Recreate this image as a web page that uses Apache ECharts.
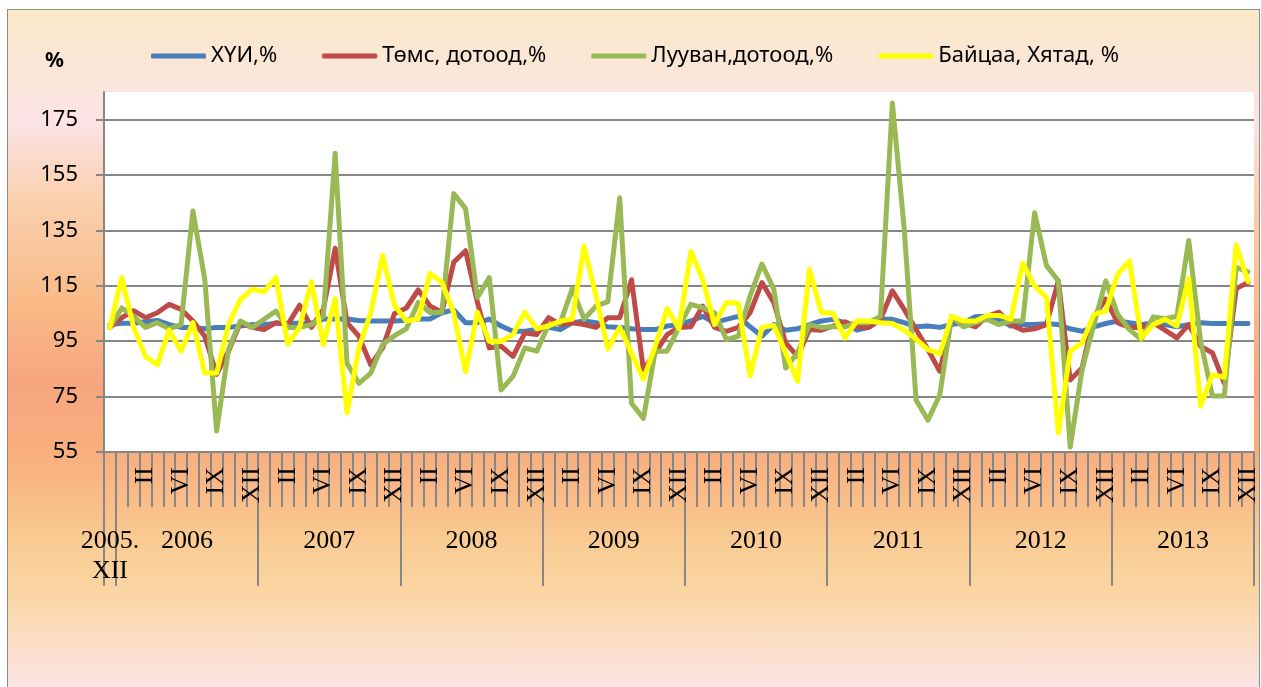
<!DOCTYPE html>
<html>
<head>
<meta charset="utf-8">
<script src="https://cdn.jsdelivr.net/npm/echarts@6/dist/echarts.min.js"></script>
<style>
  body { margin: 0; background: #fff; }
  #bg {
    position: absolute; left: 7px; top: 9px; width: 1251px; height: 690px;
    border: 1.5px solid #8c8c8c; border-bottom: none;
    background: linear-gradient(to bottom,
      #fae8c8 0px, #fbe6dc 76px, #fce3e6 111px, #fad0ae 191px, #f9bb88 291px,
      #f7a67c 371px, #f8ae7f 441px, #f9bd88 491px, #f9cb92 531px, #fad5a2 581px,
      #fbdcbd 621px, #fce3e5 678px);
  }
  #main { position: absolute; left: 0; top: 0; width: 1261px; height: 687px; }
</style>
</head>
<body>
<div id="bg"></div>
<div id="main"></div>
<script>
// 2005.XII .. 2013.XII, monthly (97 points)
var years = ['2006', '2007', '2008', '2009', '2010', '2011', '2012', '2013'];
var monthLabels = ['', '', 'II', '', '', 'VI', '', '', 'IX', '', '', 'XII'];
var firstLabel = '2005.\nXII';

var seriesNames = ['ХҮИ,%', 'Төмс, дотоод,%', 'Лууван,дотоод,%', 'Байцаа, Хятад, %'];

// ХҮИ
var cpi = [101, 101.5, 101.5, 102, 102.5, 101, 100, 100, 99.5, 100, 100, 100.5, 101,
  101, 101.5, 101.5, 101.5, 101.5, 103, 103, 103, 102.5, 102.3, 102.3, 102.3,
  102.6, 103, 103, 105.3, 106.3, 101.7, 101.7, 103, 100.5, 98.6, 98.6, 99.2,
  100, 99.2, 101.7, 102.3, 101.7, 100.2, 100, 99.5, 99.2, 99.2, 100.5, 101,
  102.3, 104, 101.7, 102.9, 104, 100.2, 96.8, 101, 99, 99.5, 101, 102.3,
  102.9, 101.7, 99, 100, 102.9, 102.9, 101.7, 100.2, 100.5, 100, 101, 101.7,
  103.8, 104, 102.9, 100.5, 101, 101, 101.3, 101, 99.5, 98.6, 100.2, 101.4,
  102.3, 101.7, 101, 101.7, 101, 100.2, 101, 101.7, 101.4, 101.4, 101.4, 101.4];

// Төмс, дотоод
var potato = [100, 103.5, 106, 103.5, 105.3, 108.3, 106.5, 102.3, 96.8, 83, 91.4, 101.7, 100,
  99.2, 101.7, 101, 108, 100, 106.5, 128.6, 101.7, 96.8, 86.5, 92.6, 105,
  107, 113.5, 107.7, 105.5, 123.5, 127.7, 109, 92.6, 93.2, 89.5, 98, 97.4,
  103.5, 101, 101.7, 101, 100, 103.5, 103.5, 117.2, 84.7, 90.8, 97.4, 100,
  100.2, 107.7, 100, 98.6, 100, 105.3, 116.2, 109, 94.4, 89.5, 99.2, 99,
  100.5, 102, 100.2, 100, 102.9, 113.2, 106.5, 99.2, 92, 84.1, 102.9, 101.7,
  100.2, 104, 105.5, 101, 99, 99.5, 101, 116.8, 81, 85.3, 104, 110.2,
  101.7, 100, 100, 101.7, 99, 96.2, 101, 93.2, 90.8, 79.8, 114, 116.2];

// Лууван, дотоод
var carrot = [100, 107, 104, 100, 101.7, 99.5, 101, 142, 117.4, 62.6, 92, 102.3, 100,
  102.9, 105.9, 100, 100, 101, 104, 162.9, 87, 79.8, 83.5, 93.8, 97,
  99.5, 109, 105.3, 105.5, 148.3, 142.9, 110.8, 118, 77.4, 82.3, 92.6, 91.4,
  101, 101.7, 114, 103, 107.7, 109.3, 146.8, 72.6, 67.1, 91.4, 91.4, 100,
  108.3, 107.1, 105.3, 95.6, 96.8, 111.4, 122.9, 113.8, 85.3, 90.8, 101, 100,
  100.2, 100.2, 101.7, 101.7, 104, 181, 135.6, 73.8, 66.5, 75.6, 104, 100.2,
  101.7, 102.9, 101, 102.3, 102.3, 141.4, 122.3, 116.8, 56.8, 84.7, 101, 116.8,
  104.7, 99.2, 95.6, 103.8, 103.1, 104, 131.4, 95, 75.2, 75.2, 121.7, 120.1];

// Байцаа, Хятад
var cabbage = [100, 118, 100, 89.5, 86.5, 99, 91.4, 101.7, 83.5, 83.5, 101, 110, 113.8,
  112.8, 118, 94, 100, 116.5, 93.8, 110.4, 69.2, 92.6, 105.3, 126, 108,
  102.3, 103, 119.5, 116.3, 105.3, 84, 105.5, 95, 95, 97.4, 105.5, 99.5,
  100.5, 102.3, 103, 129.3, 111.4, 92.2, 100, 90.8, 81.3, 93.2, 106.8, 99.5,
  127.4, 117.4, 101, 109, 108.7, 82.5, 100, 100.7, 90.8, 80.5, 121, 105.5,
  105, 96.2, 102.3, 102.3, 101.7, 101.4, 99, 95.8, 92, 90.5, 104, 102.3,
  102.3, 104.3, 104.3, 103, 123.2, 115, 110.8, 61.9, 91.4, 94.4, 104.7, 105.9,
  119.2, 124, 96.2, 101, 102.9, 100.5, 117.7, 71.6, 82.9, 82, 129.8, 116.5];

var colors = ['#4a7ebb', '#be4b48', '#98b954', '#ffff00'];

// month axis and year axis categories
var monthAxis = [''];
var yearAxis = [firstLabel];
for (var y = 0; y < years.length; y++) {
  for (var m = 0; m < 12; m++) {
    monthAxis.push(monthLabels[m]);
    yearAxis.push(m === 5 ? years[y] : '');
  }
}

var chart = echarts.init(document.getElementById('main'));
var sans = '"Noto Sans", sans-serif';
var serif = '"Liberation Serif", "Times New Roman", serif';
var axisGray = '#868686';

var option = {
  animation: false,
  title: {
    text: '%', left: 40, top: 46,
    textStyle: { fontFamily: sans, fontSize: 21, fontWeight: 'bold', color: '#000' }
  },
  legend: {
    left: 146, top: 38,
    itemWidth: 55, itemHeight: 5, itemGap: 45,
    icon: 'roundRect',
    textStyle: { fontFamily: sans, fontSize: 22, color: '#000', lineHeight: 26 },
    data: seriesNames
  },
  grid: {
    left: 104, right: 3, top: 92, bottom: 235,
    show: true, backgroundColor: '#fff', borderWidth: 0
  },
  xAxis: [{
    type: 'category',
    data: monthAxis,
    boundaryGap: true,
    axisLine: { show: true, lineStyle: { color: axisGray, width: 2 } },
    axisTick: { show: true, interval: 0, length: 55, lineStyle: { color: axisGray, width: 2 } },
    axisLabel: {
      show: true, interval: 0, rotate: 90, margin: 15,
      fontFamily: serif, fontSize: 26, color: '#000'
    },
    splitLine: { show: false }
  }, {
    type: 'category',
    data: yearAxis,
    boundaryGap: true,
    position: 'bottom',
    axisLine: { show: false },
    axisTick: {
      show: true,
      interval: function (i) { return i === 0 || (i - 1) % 12 === 0; },
      length: 134, lineStyle: { color: axisGray, width: 2 }
    },
    axisLabel: {
      show: true, interval: 0, margin: 74,
      fontFamily: serif, fontSize: 26, color: '#000', lineHeight: 30,
      formatter: function (v, i) {
        if (i === 0) return v;
        return v ? '{y|' + v + '}' : '';
      },
      rich: { y: { fontFamily: serif, fontSize: 26, color: '#000', padding: [0, 0, 0, 12] } }
    },
    splitLine: { show: false }
  }],
  yAxis: {
    type: 'value',
    min: 55, max: 185, interval: 20,
    axisLine: { show: true, lineStyle: { color: axisGray, width: 2 } },
    axisTick: { show: true, length: 8, lineStyle: { color: axisGray, width: 2 } },
    axisLabel: {
      margin: 26, fontFamily: sans, fontSize: 22, color: '#000', showMaxLabel: false
    },
    splitLine: { showMaxLine: false, lineStyle: { color: axisGray, width: 2 } }
  },
  series: [cpi, potato, carrot, cabbage].map(function (d, k) {
    return {
      name: seriesNames[k],
      type: 'line',
      data: d,
      symbol: 'none',
      color: colors[k],
      lineStyle: { width: 5, color: colors[k], join: 'round', cap: 'round' }
    };
  })
};
chart.setOption(option);
</script>
</body>
</html>
